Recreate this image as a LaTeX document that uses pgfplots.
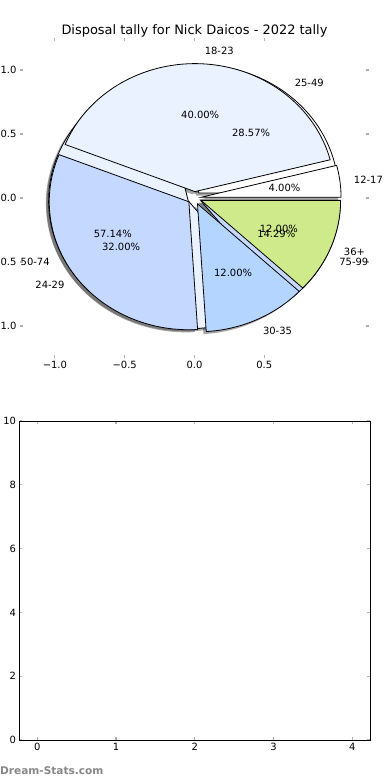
\documentclass[border=0pt]{standalone}
\usepackage{fontspec}
\setmainfont{DejaVu Sans}
\usepackage{pgfplots}
\pgfplotsset{compat=1.18}

\definecolor{cW}{HTML}{FFFFFF}
\definecolor{cVL}{HTML}{EAF1FF}
\definecolor{cL}{HTML}{C5D8FF}
\definecolor{cM}{HTML}{B4D5FF}
\definecolor{cG}{HTML}{CFEA8B}
\definecolor{tickgray}{HTML}{B0B0B0}

% angles from cumulative percentage and value (explode 0.05)
\newcommand{\pieangles}[2]{%
  \pgfmathsetmacro\aS{3.6*#1}%
  \pgfmathsetmacro\aE{3.6*(#1+#2)}%
  \pgfmathsetmacro\aM{(\aS+\aE)/2}%
  \pgfmathsetmacro\ox{0.05*cos(\aM)}%
  \pgfmathsetmacro\oy{0.05*sin(\aM)}%
}
% #1 start pct, #2 value pct, #3 style, #4 shift
\newcommand{\pieslice}[4]{%
  \pieangles{#1}{#2}%
  \pgfmathsetmacro\cx{\ox+#4}%
  \pgfmathsetmacro\cy{\oy+#4}%
  \edef\tmp{\noexpand\addplot[#3, domain=\aS:\aE, samples=80] ({\cx+cos(x)},{\cy+sin(x)}) -- (axis cs:\cx,\cy) -- cycle;}%
  \tmp
}
% #1 start pct, #2 value pct, #3 label
\newcommand{\pielabel}[3]{%
  \pieangles{#1}{#2}%
  \pgfmathsetmacro\lx{\ox+1.1*cos(\aM)}%
  \pgfmathsetmacro\ly{\oy+1.1*sin(\aM)}%
  \pgfmathsetmacro\px{\ox+0.6*cos(\aM)}%
  \pgfmathsetmacro\py{\oy+0.6*sin(\aM)}%
  \ifdim\lx pt>0pt \def\anc{west}\else\def\anc{east}\fi
  \edef\tmp{\noexpand\node[anchor=\anc, inner sep=0pt] at (axis cs:\lx,\ly) {#3};
    \noexpand\node[inner sep=0pt] at (axis cs:\px,\py) {\noexpand\pgfmathprintnumber[fixed,fixed zerofill,precision=2]{#2}\noexpand\%};}%
  \tmp
}

\pgfplotsset{
  mystyle/.style={
    scale only axis,
    anchor=south west,
    clip=false,
    tick align=inside,
    major tick length=3bp,
    tick style={tickgray, line width=1.1bp},
    tick label style={font=\fontsize{10}{12}\selectfont},
    /pgf/number format/assume math mode=true,
  }
}

\begin{document}
\begin{tikzpicture}
\useasboundingbox (0,0) rectangle (390bp,-780bp);
\clip (0,0) rectangle (390bp,-780bp);
\fill[white] (0,0) rectangle (390bp,-780bp);

\begin{axis}[mystyle,
  at={(20bp,-358bp)}, width=349bp, height=320bp,
  xmin=-1.25, xmax=1.25, ymin=-1.25, ymax=1.25,
  axis line style={draw=none},
  xtick={-1,-0.5,0,0.5}, xticklabels={−1.0,−0.5,0.0,0.5},
  ytick={-1,-0.5,0,0.5,1}, yticklabels={−1.0,−0.5,0.0,0.5,1.0},
  every node/.append style={font=\fontsize{10.3}{12}\selectfont},
]
% shadows (pie B then pie A)
\def\shad{draw=none, fill=black!70, fill opacity=0.5}
\pieslice{0}{28.57}{\shad}{-0.02}
\pieslice{28.57}{57.14}{\shad}{-0.02}
\pieslice{85.71}{14.29}{\shad}{-0.02}
\pieslice{0}{4}{\shad}{-0.02}
\pieslice{4}{40}{\shad}{-0.02}
\pieslice{44}{32}{\shad}{-0.02}
\pieslice{76}{12}{\shad}{-0.02}
\pieslice{88}{12}{\shad}{-0.02}
% pie B: 25-49, 50-74, 75-99
\pieslice{0}{28.57}{draw=black, line width=0.8bp, fill=cW}{0}
\pieslice{28.57}{57.14}{draw=black, line width=0.8bp, fill=cVL}{0}
\pieslice{85.71}{14.29}{draw=black, line width=0.8bp, fill=cL}{0}
% pie A: 12-17, 18-23, 24-29, 30-35, 36+
\pieslice{0}{4}{draw=black, line width=0.8bp, fill=cW}{0}
\pieslice{4}{40}{draw=black, line width=0.8bp, fill=cVL}{0}
\pieslice{44}{32}{draw=black, line width=0.8bp, fill=cL}{0}
\pieslice{76}{12}{draw=black, line width=0.8bp, fill=cM}{0}
\pieslice{88}{12}{draw=black, line width=0.8bp, fill=cG}{0}
% labels
\pielabel{0}{28.57}{25-49}
\pielabel{28.57}{57.14}{50-74}
\pielabel{85.71}{14.29}{75-99}
\pielabel{0}{4}{12-17}
\pielabel{4}{40}{18-23}
\pielabel{44}{32}{24-29}
\pielabel{76}{12}{30-35}
\pielabel{88}{12}{36+}
\end{axis}

\node[anchor=base, font=\fontsize{13}{15}\selectfont] at (194.5bp,-34bp) {Disposal tally for Nick Daicos - 2022 tally};

\begin{axis}[mystyle,
  at={(19.5bp,-740bp)}, width=350.5bp, height=319bp,
  xmin=-0.225, xmax=4.225, ymin=0, ymax=10,
  xtick={0,1,2,3,4}, ytick={0,2,4,6,8,10},
  axis line style={black, line width=0.8bp},
]
\addplot[draw=none] coordinates {(0,0)};
\end{axis}

\node[anchor=base west, inner sep=0pt, font=\bfseries\fontsize{10.6}{12}\selectfont, text={rgb,255:red,135;green,135;blue,135}] at (0bp,-774bp) {Dream-Stats.com};
\end{tikzpicture}
\end{document}
